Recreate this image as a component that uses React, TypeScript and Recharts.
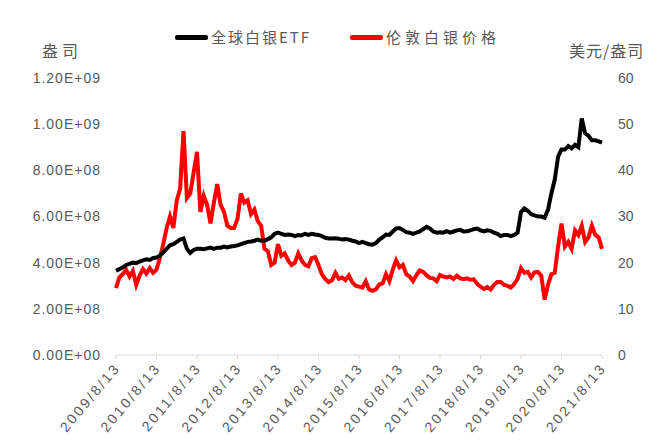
import React from "react"
import { LineChart, Line, XAxis, YAxis } from "recharts"

// monthly, 2009/8 .. 2021/8
const etfOz = [
  // 2009 Aug-Dec
  3.65, 3.72, 3.8, 3.9, 3.95,
  // 2010
  4.0, 3.98, 4.05, 4.1, 4.15, 4.12, 4.2, 4.22, 4.3, 4.45, 4.6, 4.75,
  // 2011
  4.8, 4.9, 5.0, 5.05, 4.6, 4.42, 4.55, 4.6, 4.6, 4.58, 4.62, 4.65,
  // 2012
  4.6, 4.65, 4.65, 4.7, 4.66, 4.7, 4.72, 4.75, 4.8, 4.85, 4.9, 4.92,
  // 2013
  4.95, 5.0, 4.95, 4.95, 5.02, 5.1, 5.25, 5.3, 5.25, 5.2, 5.22, 5.2,
  // 2014
  5.15, 5.2, 5.18, 5.25, 5.2, 5.25, 5.22, 5.2, 5.15, 5.08, 5.05, 5.05,
  // 2015
  5.06, 5.04, 5.0, 5.02, 5.0, 4.95, 4.92, 4.85, 4.9, 4.85, 4.8, 4.78,
  // 2016
  4.85, 5.0, 5.1, 5.22, 5.2, 5.35, 5.48, 5.5, 5.42, 5.32, 5.3, 5.25,
  // 2017
  5.3, 5.35, 5.45, 5.55, 5.48, 5.35, 5.3, 5.32, 5.3, 5.36, 5.3, 5.35,
  // 2018
  5.4, 5.42, 5.35, 5.36, 5.4, 5.45, 5.48, 5.4, 5.35, 5.4, 5.38, 5.3,
  // 2019
  5.25, 5.15, 5.2, 5.2, 5.15, 5.2, 5.3, 6.2, 6.35, 6.25, 6.1, 6.05,
  // 2020
  6.0, 6.0, 5.95, 6.3, 7.0, 7.6, 8.6, 8.9, 8.9, 9.05, 8.95, 9.1,
  // 2021 Jan-Aug
  9.0, 10.25, 9.6, 9.5, 9.3, 9.3, 9.25, 9.2,
] // x 1e8 oz

const silverUsd = [
  // 2009 Aug-Dec
  14.5, 16.8, 17.5, 18.5, 17.0,
  // 2010
  18.2, 15.2, 17.2, 18.6, 17.6, 18.8, 17.8, 18.5, 21.0, 24.0, 27.5, 30.0,
  // 2011
  27.5, 33.5, 36.0, 48.5, 34.0, 35.0, 39.5, 44.0, 31.0, 34.5, 32.5, 28.5,
  // 2012
  33.0, 37.0, 32.5, 31.0, 28.0, 27.5, 27.5, 29.5, 35.0, 33.0, 33.5, 30.5,
  // 2013
  31.5, 29.0, 28.0, 23.0, 22.5, 19.5, 20.0, 24.0, 21.5, 22.0, 20.5, 19.5,
  // 2014
  20.0, 22.0, 20.5, 19.5, 19.2, 21.0, 21.2, 19.5, 17.5, 16.5, 15.8, 16.2,
  // 2015
  17.8, 16.5, 16.8, 16.2, 17.2, 15.8, 15.0, 14.8, 14.6, 16.0, 14.2, 13.9,
  // 2016
  14.2, 15.3, 15.5, 17.5, 16.0, 18.5, 20.5, 19.0, 19.5, 17.5, 17.0, 16.0,
  // 2017
  17.3, 18.3, 18.0, 17.3, 16.7, 16.6, 16.0, 17.3, 17.0, 16.8, 17.0, 16.5,
  // 2018
  17.2, 16.6, 16.4, 16.6, 16.3, 16.4, 15.4, 14.8, 14.3, 14.7, 14.2, 15.2,
  // 2019
  15.8, 15.8, 15.2, 15.0, 14.6, 15.4, 16.5, 18.8, 17.8, 18.0, 16.8, 17.9,
  // 2020
  18.0, 17.2, 12.0, 15.2, 17.5, 17.8, 23.5, 28.5, 23.5, 24.5, 23.0, 27.0,
  // 2021 Jan-Aug
  26.0, 28.0, 24.5, 25.5, 28.0, 26.0, 25.5, 23.0,
]

const xTickLabels = [
  "2009/8/13", "2010/8/13", "2011/8/13", "2012/8/13", "2013/8/13", "2014/8/13", "2015/8/13",
  "2016/8/13", "2017/8/13", "2018/8/13", "2019/8/13", "2020/8/13", "2021/8/13",
]
const leftTicks = [0, 2e8, 4e8, 6e8, 8e8, 10e8, 12e8]
const rightTicks = [0, 10, 20, 30, 40, 50, 60]

const data = etfOz.map((v, i) => ({ m: i, etf: v * 1e8, silver: silverUsd[i] }))
const xTicks = xTickLabels.map((_, i) => i * 12)

const GRAY = "#595959"
const NUM_FONT = "'Liberation Sans', Arial, sans-serif"
const CJK_FONT = "'Noto Sans CJK SC', sans-serif"

function XTick({ x, y, payload }: any) {
  const label = xTickLabels[payload.value / 12]
  const ax = x + 5
  const ay = y + 7
  return (
    <text
      x={ax}
      y={ay}
      textAnchor="end"
      fill={GRAY}
      fontSize={14}
      letterSpacing={2.5}
      fontFamily={NUM_FONT}
      transform={`rotate(-50, ${ax}, ${ay})`}
    >
      {label}
    </text>
  )
}

const fmtSci = (v: number) => {
  if (v === 0) return "0.00E+00"
  const e = Math.floor(Math.log10(v))
  return `${(v / Math.pow(10, e)).toFixed(2)}E+${String(e).padStart(2, "0")}`
}

export default function App() {
  return (
    <div style={{ position: "absolute", left: 0, top: 0, width: 659, height: 446, background: "#fff" }}>
      <LineChart width={659} height={446} data={data} margin={{ top: 78, right: 0, left: 0, bottom: 0 }}>
        <XAxis
          dataKey="m"
          type="number"
          domain={[0, 144]}
          ticks={xTicks}
          interval={0}
          height={91}
          axisLine={{ stroke: "#d9d9d9" }}
          tickLine={{ stroke: "#d9d9d9" }}
          tickSize={4}
          tick={<XTick />}
        />
        <YAxis
          yAxisId="left"
          width={116}
          domain={[0, 12e8]}
          ticks={leftTicks}
          tickFormatter={fmtSci}
          axisLine={false}
          tickLine={false}
          tickMargin={9}
          tick={{ fill: GRAY, fontSize: 14, fontFamily: NUM_FONT, letterSpacing: 1 }}
        />
        <YAxis
          yAxisId="right"
          orientation="right"
          width={57}
          domain={[0, 60]}
          ticks={rightTicks}
          axisLine={false}
          tickLine={false}
          tickMargin={10}
          tick={{ fill: GRAY, fontSize: 14, fontFamily: NUM_FONT }}
        />
        <Line
          yAxisId="right"
          dataKey="silver"
          type="linear"
          stroke="#ff0000"
          strokeWidth={4}
          dot={false}
          isAnimationActive={false}
        />
        <Line
          yAxisId="left"
          dataKey="etf"
          type="linear"
          stroke="#000000"
          strokeWidth={4}
          dot={false}
          isAnimationActive={false}
        />
      </LineChart>

      <div style={{ position: "absolute", left: 42, top: 38, fontSize: 16, color: GRAY, fontFamily: CJK_FONT, letterSpacing: 4 }}>
        盎司
      </div>
      <div style={{ position: "absolute", left: 569, top: 38, fontSize: 16, color: GRAY, fontFamily: CJK_FONT, letterSpacing: 1 }}>
        美元/盎司
      </div>

      <div style={{ position: "absolute", left: 175, top: 35, width: 33, height: 5, background: "#000", borderRadius: 2 }} />
      <div style={{ position: "absolute", left: 211, top: 26, fontSize: 15, color: GRAY, fontFamily: CJK_FONT, letterSpacing: 2 }}>
        全球白银ETF
      </div>
      <div style={{ position: "absolute", left: 350, top: 35, width: 33, height: 5, background: "#ff0000", borderRadius: 2 }} />
      <div style={{ position: "absolute", left: 386, top: 26, fontSize: 15, color: GRAY, fontFamily: CJK_FONT, letterSpacing: 4 }}>
        伦敦白银价格
      </div>
    </div>
  )
}
